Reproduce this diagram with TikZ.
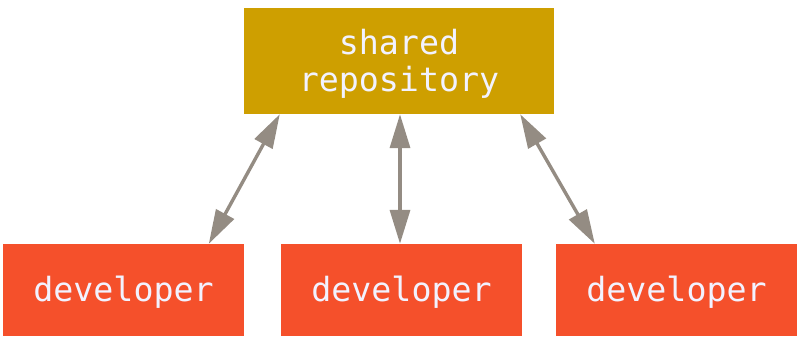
\documentclass[tikz,border=0pt]{standalone}
\usepackage{fontspec}
\newfontfamily\gitmono{DejaVu Sans Mono}
\usetikzlibrary{arrows.meta}
\definecolor{repogold}{HTML}{CE9F00}
\definecolor{devred}{HTML}{F5502B}
\definecolor{arrowgray}{HTML}{948C83}
\definecolor{labelwhite}{HTML}{F2F2FF}
\tikzset{
  box/.style={fill=#1, draw=none, inner sep=0pt},
  lbl/.style={inner sep=0pt, align=center, text=labelwhite,
    font=\gitmono\fontsize{33.3pt}{37pt}\selectfont},
  link/.style={draw=arrowgray, line width=3.4pt,
    >={Triangle[length=34pt,width=20pt,fill=arrowgray]}, <->}
}
\begin{document}
\begin{tikzpicture}[x=1pt,y=1pt]
\useasboundingbox (0,0) rectangle (800,-345);
\node[box=repogold, minimum width=310pt, minimum height=106pt] (repo) at (399,-61) {};
\node[box=devred, minimum width=241pt, minimum height=92pt] (dev1) at (123.5,-290) {};
\node[box=devred, minimum width=241pt, minimum height=92pt] (dev2) at (401.5,-290) {};
\node[box=devred, minimum width=241pt, minimum height=92pt] (dev3) at (676.5,-290) {};
\node[lbl] (repotext) at ([yshift=-3pt]repo.center) {shared\\repository};
\node[lbl] (dev1text) at ([yshift=-2pt]dev1.center) {developer};
\node[lbl] (dev2text) at ([yshift=-2pt]dev2.center) {developer};
\node[lbl] (dev3text) at ([yshift=-2pt]dev3.center) {developer};
\draw[link] ([xshift=36pt]repo.south west) -- ([xshift=206pt]dev1.north west);
\draw[link] ([xshift=1pt]repo.south) -- ([xshift=-1.5pt]dev2.north);
\draw[link] ([xshift=-34pt]repo.south east) -- ([xshift=39pt]dev3.north west);
\end{tikzpicture}
\end{document}
